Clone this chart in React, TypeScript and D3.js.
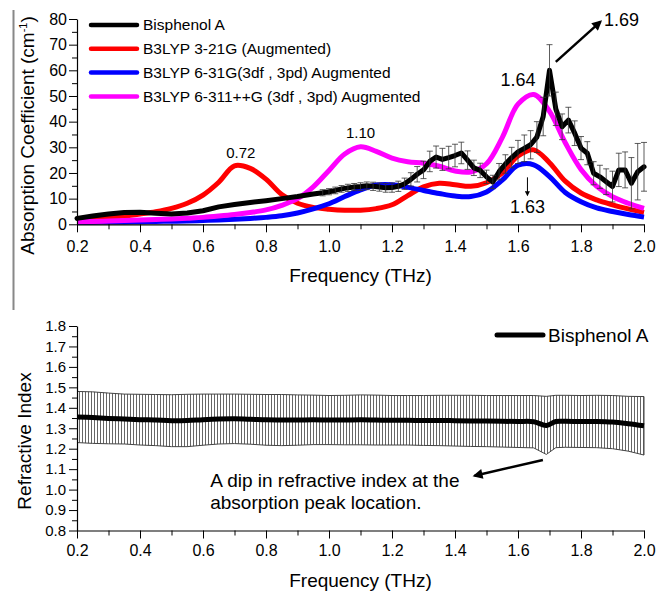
import React, { useRef, useEffect } from "react";
import * as d3 from "d3";

// ---- top panel: absorption coefficient ----
const fitFreq = [0.2, 0.25, 0.3, 0.35, 0.4, 0.45, 0.5, 0.55, 0.6, 0.65, 0.7, 0.75, 0.8, 0.85, 0.9, 0.95,
  1.0, 1.05, 1.1, 1.15, 1.2, 1.25, 1.3, 1.35, 1.4, 1.45, 1.5, 1.55, 1.6, 1.65, 1.7, 1.75, 1.8, 1.85, 1.9, 1.95, 2.0];

const red321 = [1.5, 2.0, 2.6, 3.2, 4.0, 4.9, 6.2, 8.2, 11.4, 16.4, 22.8, 21.8, 17.6, 11.6, 8.2, 6.6,
  5.9, 5.5, 5.5, 6.1, 7.6, 11.2, 14.6, 16.0, 15.4, 14.8, 16.2, 20.0, 26.6, 29.0, 24.0, 16.8, 12.2, 9.5, 7.6, 6.0, 4.6];

const blue631 = [0.8, 0.8, 0.9, 0.9, 1.0, 1.1, 1.2, 1.3, 1.5, 1.7, 2.0, 2.3, 2.7, 3.3, 4.4, 6.0,
  8.0, 10.8, 13.4, 15.3, 15.4, 14.4, 13.2, 12.0, 11.0, 10.8, 12.6, 17.2, 23.0, 23.2, 18.6, 12.4, 8.8, 6.4, 5.0, 3.8, 2.8];

const mag6311 = [1.0, 1.1, 1.3, 1.5, 1.7, 1.9, 2.1, 2.4, 2.7, 3.2, 3.8, 4.6, 5.6, 7.4, 10.0, 14.6,
  21.0, 27.4, 30.2, 28.4, 25.8, 24.4, 23.8, 22.6, 20.8, 20.4, 23.6, 33.8, 46.8, 50.6, 44.0, 31.8, 21.4, 14.8, 10.8, 8.2, 6.2];

const bpaFreq = [0.2, 0.25, 0.3, 0.35, 0.4, 0.45, 0.5, 0.55, 0.6, 0.65, 0.7, 0.75, 0.8, 0.85, 0.9, 0.95, 0.98,
  1.0, 1.02, 1.04, 1.06, 1.08, 1.1, 1.12, 1.14, 1.16, 1.18, 1.2, 1.22, 1.24, 1.26, 1.28, 1.3, 1.32, 1.34, 1.36, 1.38,
  1.4, 1.42, 1.44, 1.46, 1.48, 1.5, 1.52, 1.54, 1.56, 1.58, 1.6, 1.62, 1.64, 1.66, 1.68, 1.7, 1.72, 1.74, 1.76, 1.78,
  1.8, 1.82, 1.84, 1.86, 1.88, 1.9, 1.92, 1.94, 1.96, 1.98, 2.0];

const bpaAbs = [2.3, 3.2, 4.0, 4.6, 4.7, 4.3, 4.0, 4.4, 5.3, 6.8, 7.7, 8.5, 9.2, 10.0, 10.8, 11.8, 12.3,
  12.7, 13.2, 13.8, 14.2, 14.5, 14.7, 15.0, 14.8, 14.5, 14.2, 14.3, 14.8, 15.8, 17.5, 19.5, 21.2, 24.5, 26.2, 25.3, 26.0,
  26.8, 27.8, 25.0, 22.0, 21.0, 18.5, 16.5, 20.5, 23.5, 26.0, 28.2, 29.6, 31.0, 34.0, 42.0, 60.0, 45.0, 38.0, 40.6, 35.5,
  29.7, 27.7, 19.9, 18.5, 16.6, 14.7, 21.2, 21.2, 16.0, 20.5, 22.4];

const bpaErr = [0, 0, 0, 0, 0, 0, 0, 0, 0, 0, 0, 0, 0, 0, 0, 0, 1.2,
  1.2, 1.3, 1.3, 1.4, 1.4, 1.5, 1.5, 1.6, 1.6, 1.7, 1.8, 2.0, 2.2, 2.6, 3.0, 3.4, 4.0, 4.3, 4.3, 4.4,
  4.4, 4.2, 3.6, 3.0, 2.8, 2.6, 2.6, 3.2, 3.6, 4.0, 4.5, 5.2, 5.5, 6.0, 7.5, 10.0, 6.5, 5.0, 5.0, 4.8,
  4.5, 4.5, 4.5, 4.5, 5.0, 6.0, 6.5, 7.0, 10.0, 11.0, 9.5];

// ---- bottom panel: refractive index ----
const nFreq = [0.2, 0.25, 0.3, 0.35, 0.4, 0.45, 0.5, 0.55, 0.6, 0.65, 0.7, 0.75, 0.8, 0.85, 0.9, 0.95,
  1.0, 1.05, 1.1, 1.15, 1.2, 1.25, 1.3, 1.35, 1.4, 1.45, 1.5, 1.55, 1.6, 1.65, 1.69, 1.72, 1.75, 1.8, 1.85, 1.9, 1.95, 2.0];
const nMean = [1.355, 1.352, 1.348, 1.345, 1.342, 1.34, 1.337, 1.338, 1.342, 1.345, 1.346, 1.344, 1.341, 1.34, 1.34, 1.341,
  1.34, 1.34, 1.341, 1.34, 1.339, 1.339, 1.338, 1.338, 1.337, 1.336, 1.335, 1.334, 1.333, 1.332, 1.314, 1.333, 1.334, 1.333, 1.333, 1.33, 1.322, 1.312];
const nErr = [0.125, 0.126, 0.124, 0.122, 0.124, 0.125, 0.127, 0.128, 0.125, 0.122, 0.121, 0.122, 0.124, 0.125, 0.123, 0.121,
  0.12, 0.121, 0.122, 0.122, 0.121, 0.121, 0.122, 0.123, 0.124, 0.125, 0.125, 0.126, 0.127, 0.128, 0.142, 0.128, 0.127, 0.127, 0.128, 0.13, 0.134, 0.143];

const xTicks = [0.2, 0.4, 0.6, 0.8, 1.0, 1.2, 1.4, 1.6, 1.8, 2.0];
const xMinor = [0.3, 0.5, 0.7, 0.9, 1.1, 1.3, 1.5, 1.7, 1.9];
const absTicks = [0, 10, 20, 30, 40, 50, 60, 70, 80];
const absMinor = [5, 15, 25, 35, 45, 55, 65, 75];
const nTicks = [0.8, 0.9, 1.0, 1.1, 1.2, 1.3, 1.4, 1.5, 1.6, 1.7, 1.8];
const nMinor = [0.85, 0.95, 1.05, 1.15, 1.25, 1.35, 1.45, 1.55, 1.65, 1.75];

const legendNames = ["Bisphenol A", "B3LYP 3-21G (Augmented)", "B3LYP 6-31G(3df , 3pd) Augmented", "B3LYP 6-311++G (3df , 3pd) Augmented"];
const legendColors = ["#000000", "#ff0000", "#0000ff", "#ff00ff"];

const FONT = "'Liberation Sans', Arial, Helvetica, sans-serif";

export default function App() {
  const svgRef = useRef<SVGSVGElement>(null);

  useEffect(() => {
    const svg = d3.select(svgRef.current);
    svg.selectAll("*").remove();

    const xS = d3.scaleLinear().domain([0.2, 2.0]).range([77, 644]);
    const aY = d3.scaleLinear().domain([0, 80]).range([224.3, 19]);
    const nY = d3.scaleLinear().domain([0.8, 1.8]).range([530.5, 326]);

    const defs = svg.append("defs");
    defs.append("pattern")
      .attr("id", "hatch")
      .attr("patternUnits", "userSpaceOnUse")
      .attr("width", 3)
      .attr("height", 10)
      .append("line")
      .attr("x1", 1.5).attr("x2", 1.5).attr("y1", 0).attr("y2", 10)
      .attr("stroke", "#555").attr("stroke-width", 0.9);

    const mkArrow = (id: string, w: number, h: number) => {
      defs.append("marker")
        .attr("id", id)
        .attr("viewBox", "0 0 10 10")
        .attr("refX", 8).attr("refY", 5)
        .attr("markerWidth", w).attr("markerHeight", h)
        .attr("markerUnits", "strokeWidth")
        .attr("orient", "auto")
        .append("path").attr("d", "M0,0L10,5L0,10z").attr("fill", "#000");
    };
    mkArrow("headBig", 5, 4);
    mkArrow("headSmall", 6, 5);

    // grey crop edge at the left
    svg.append("line")
      .attr("x1", 13.5).attr("x2", 13.5).attr("y1", 10).attr("y2", 310)
      .attr("stroke", "#888").attr("stroke-width", 2);

    // ===== top panel =====
    const fitLine = (vals: number[]) =>
      d3.line<number>().x((d, i) => xS(fitFreq[i])).y(d => aY(d)).curve(d3.curveCatmullRom)(vals);

    [[red321, "#ff0000"], [blue631, "#0000ff"], [mag6311, "#ff00ff"]].forEach(([vals, col]) => {
      svg.append("path")
        .attr("d", fitLine(vals as number[]))
        .attr("fill", "none")
        .attr("stroke", col as string)
        .attr("stroke-width", 5)
        .attr("stroke-linejoin", "round");
    });

    const bpaLine = d3.line<number>().x((d, i) => xS(bpaFreq[i])).y(d => aY(d));
    svg.append("path")
      .attr("d", bpaLine(bpaAbs))
      .attr("fill", "none")
      .attr("stroke", "#000")
      .attr("stroke-width", 5)
      .attr("stroke-linejoin", "round")
      .attr("stroke-linecap", "round");

    const errIdx = bpaAbs.map((d, i) => i).filter(i => bpaErr[i] > 0);
    const eb = svg.append("g").attr("stroke", "#333").attr("stroke-width", 0.8);
    eb.selectAll(".ebar").data(errIdx).join("line").attr("class", "ebar")
      .attr("x1", i => xS(bpaFreq[i])).attr("x2", i => xS(bpaFreq[i]))
      .attr("y1", i => aY(bpaAbs[i] - bpaErr[i])).attr("y2", i => aY(bpaAbs[i] + bpaErr[i]));
    eb.selectAll(".ecapT").data(errIdx).join("line").attr("class", "ecapT")
      .attr("x1", i => xS(bpaFreq[i]) - 3).attr("x2", i => xS(bpaFreq[i]) + 3)
      .attr("y1", i => aY(bpaAbs[i] + bpaErr[i])).attr("y2", i => aY(bpaAbs[i] + bpaErr[i]));
    eb.selectAll(".ecapB").data(errIdx).join("line").attr("class", "ecapB")
      .attr("x1", i => xS(bpaFreq[i]) - 3).attr("x2", i => xS(bpaFreq[i]) + 3)
      .attr("y1", i => aY(bpaAbs[i] - bpaErr[i])).attr("y2", i => aY(bpaAbs[i] - bpaErr[i]));

    const styleAxis = (g: any, size: number) => {
      g.attr("font-family", FONT).attr("font-size", size);
      g.selectAll("text").attr("fill", "#000");
      g.selectAll("line").attr("stroke", "#000");
      g.select(".domain").attr("stroke", "#000").attr("stroke-width", 1.2);
    };

    // x axis (top panel)
    const gx = svg.append("g").attr("transform", `translate(0,${aY(0)})`)
      .call(d3.axisBottom(xS).tickValues(xTicks).tickSize(8).tickSizeOuter(0).tickPadding(8).tickFormat(d3.format(".1f")));
    styleAxis(gx, 16);
    const gxm = svg.append("g").attr("transform", `translate(0,${aY(0)})`)
      .call(d3.axisBottom(xS).tickValues(xMinor).tickSize(5).tickFormat(() => ""));
    gxm.select(".domain").remove();
    gxm.selectAll("line").attr("stroke", "#000");

    const gy = svg.append("g").attr("transform", `translate(${xS(0.2)},0)`)
      .call(d3.axisLeft(aY).tickValues(absTicks).tickSize(8).tickSizeOuter(0).tickPadding(2));
    styleAxis(gy, 16);
    const gym = svg.append("g").attr("transform", `translate(${xS(0.2)},0)`)
      .call(d3.axisLeft(aY).tickValues(absMinor).tickSize(5).tickFormat(() => ""));
    gym.select(".domain").remove();
    gym.selectAll("line").attr("stroke", "#000");

    svg.append("text")
      .attr("x", xS(1.1)).attr("y", 282)
      .attr("text-anchor", "middle").attr("font-family", FONT).attr("font-size", 19)
      .text("Frequency (THz)");

    const yt = svg.append("text")
      .attr("transform", "translate(34,135.5) rotate(-90)")
      .attr("text-anchor", "middle").attr("font-family", FONT).attr("font-size", 19);
    yt.append("tspan").text("Absorption Coefficient (cm");
    yt.append("tspan").attr("dy", -7).attr("font-size", 11).text("-1");
    yt.append("tspan").attr("dy", 7).text(")");

    // legend
    const lg = svg.append("g");
    legendNames.forEach((name, i) => {
      const y = 25 + i * 23.8;
      lg.append("line").attr("x1", 91).attr("x2", 137).attr("y1", y).attr("y2", y)
        .attr("stroke", legendColors[i]).attr("stroke-width", 4.5).attr("stroke-linecap", "round");
      lg.append("text").attr("x", 143).attr("y", y).attr("dy", "0.35em")
        .attr("font-family", FONT).attr("font-size", 15.5).text(name);
    });

    // peak annotations
    const note = (txt: string, f: number, v: number, size: number, anchor = "middle") =>
      svg.append("text").attr("x", xS(f)).attr("y", aY(v)).attr("dy", "0.35em")
        .attr("text-anchor", anchor).attr("font-family", FONT).attr("font-size", size).text(txt);
    note("0.72", 0.72, 28, 15);
    note("1.10", 1.1, 35.5, 15);
    note("1.64", 1.6, 56.5, 18);
    note("1.63", 1.63, 6.7, 18);
    note("1.69", 1.873, 79.6, 18, "start");

    svg.append("line")
      .attr("x1", xS(1.72)).attr("y1", aY(63.3)).attr("x2", xS(1.862)).attr("y2", aY(79))
      .attr("stroke", "#000").attr("stroke-width", 2.5).attr("marker-end", "url(#headBig)");
    svg.append("line")
      .attr("x1", xS(1.63)).attr("y1", aY(18.3)).attr("x2", xS(1.63)).attr("y2", aY(11.3))
      .attr("stroke", "#000").attr("stroke-width", 1).attr("marker-end", "url(#headSmall)");

    // ===== bottom panel =====
    const band = d3.area<number>()
      .x((d, i) => xS(nFreq[i]))
      .y0((d, i) => nY(d - nErr[i]))
      .y1((d, i) => nY(d + nErr[i]));
    svg.append("path").attr("d", band(nMean)).attr("fill", "url(#hatch)").attr("stroke", "none");
    const upLine = d3.line<number>().x((d, i) => xS(nFreq[i])).y((d, i) => nY(d + nErr[i]));
    const loLine = d3.line<number>().x((d, i) => xS(nFreq[i])).y((d, i) => nY(d - nErr[i]));
    svg.append("path").attr("d", upLine(nMean)).attr("fill", "none").attr("stroke", "#444").attr("stroke-width", 1);
    svg.append("path").attr("d", loLine(nMean)).attr("fill", "none").attr("stroke", "#444").attr("stroke-width", 1);
    svg.append("line")
      .attr("x1", xS(2.0)).attr("x2", xS(2.0))
      .attr("y1", nY(nMean[nMean.length - 1] - nErr[nErr.length - 1]))
      .attr("y2", nY(nMean[nMean.length - 1] + nErr[nErr.length - 1]))
      .attr("stroke", "#444").attr("stroke-width", 1);

    const nLine = d3.line<number>().x((d, i) => xS(nFreq[i])).y(d => nY(d)).curve(d3.curveCatmullRom);
    svg.append("path").attr("d", nLine(nMean)).attr("fill", "none")
      .attr("stroke", "#000").attr("stroke-width", 5).attr("stroke-linejoin", "round");

    const bx = svg.append("g").attr("transform", `translate(0,${nY(0.8)})`)
      .call(d3.axisBottom(xS).tickValues(xTicks).tickSize(8).tickSizeOuter(0).tickPadding(6).tickFormat(d3.format(".1f")));
    styleAxis(bx, 16);
    const bxm = svg.append("g").attr("transform", `translate(0,${nY(0.8)})`)
      .call(d3.axisBottom(xS).tickValues(xMinor).tickSize(5).tickFormat(() => ""));
    bxm.select(".domain").remove();
    bxm.selectAll("line").attr("stroke", "#000");

    const by = svg.append("g").attr("transform", `translate(${xS(0.2)},0)`)
      .call(d3.axisLeft(nY).tickValues(nTicks).tickSize(8).tickSizeOuter(0).tickPadding(3).tickFormat(d3.format(".1f")));
    styleAxis(by, 15);
    const bym = svg.append("g").attr("transform", `translate(${xS(0.2)},0)`)
      .call(d3.axisLeft(nY).tickValues(nMinor).tickSize(5).tickFormat(() => ""));
    bym.select(".domain").remove();
    bym.selectAll("line").attr("stroke", "#000");

    svg.append("text")
      .attr("x", xS(1.1)).attr("y", 587)
      .attr("text-anchor", "middle").attr("font-family", FONT).attr("font-size", 19)
      .text("Frequency (THz)");
    svg.append("text")
      .attr("transform", "translate(31,441) rotate(-90)")
      .attr("text-anchor", "middle").attr("font-family", FONT).attr("font-size", 19)
      .text("Refractive Index");

    // legend bottom
    svg.append("line").attr("x1", 497).attr("x2", 543).attr("y1", 335).attr("y2", 335)
      .attr("stroke", "#000").attr("stroke-width", 5).attr("stroke-linecap", "round");
    svg.append("text").attr("x", 548).attr("y", 335).attr("dy", "0.35em")
      .attr("font-family", FONT).attr("font-size", 19).text("Bisphenol A");

    // dip annotation
    const dip = svg.append("text").attr("font-family", FONT).attr("font-size", 19);
    dip.append("tspan").attr("x", xS(0.623)).attr("y", 487).text("A dip in refractive index at the");
    dip.append("tspan").attr("x", xS(0.623)).attr("y", 509).text("absorption peak location.");
    svg.append("line")
      .attr("x1", xS(1.679)).attr("y1", nY(1.145)).attr("x2", xS(1.462)).attr("y2", nY(1.068))
      .attr("stroke", "#000").attr("stroke-width", 2.5).attr("marker-end", "url(#headBig)");
  }, []);

  return (
    <svg
      ref={svgRef}
      width={658}
      height={592}
      style={{ position: "absolute", left: 0, top: 0, background: "#fff" }}
    />
  );
}
